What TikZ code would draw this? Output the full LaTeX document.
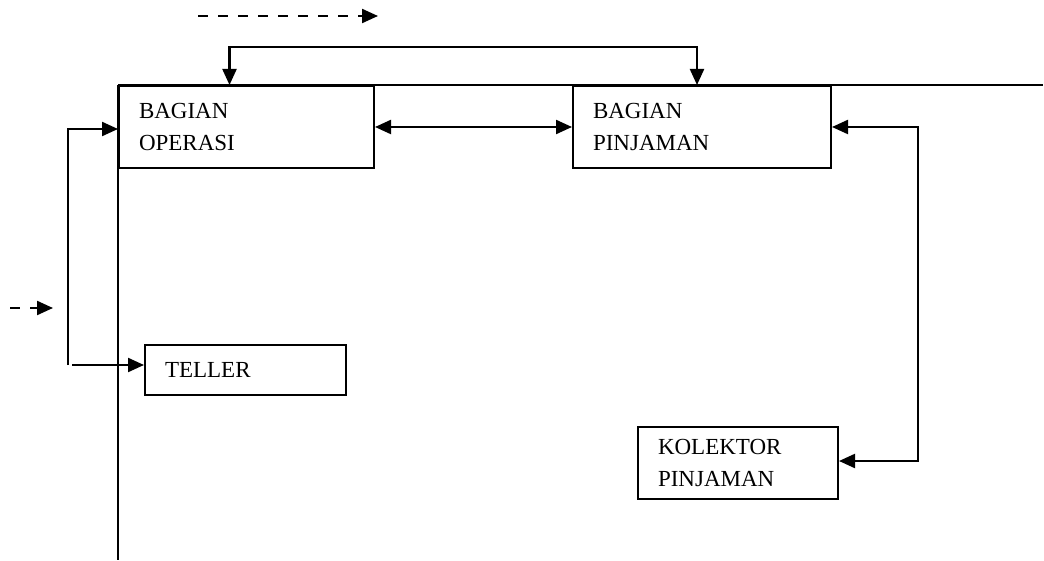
\documentclass[tikz,border=0pt]{standalone}
\usepackage{fontspec}
\setmainfont{Liberation Serif}
\usetikzlibrary{arrows.meta}

\tikzset{
  kotak/.style={draw, line width=2pt, align=left, inner xsep=20pt, inner ysep=0pt,
    font=\fontsize{23}{32}\selectfont},
  garis/.style={line width=2.2pt},
  pil/.style={garis, -{Triangle[length=16pt,width=14pt]}},
  pil2/.style={garis, {Triangle[length=16pt,width=14pt]}-{Triangle[length=16pt,width=14pt]}},
  putus/.style={pil, dash pattern=on 10pt off 10pt}
}

\begin{document}
\begin{tikzpicture}[x=1pt, y=-1pt]
\useasboundingbox (0,0) rectangle (1044,561);
% kotak-kotak
\node[kotak, text width=215pt, minimum height=82pt] (operasi) at (246.5,127) {BAGIAN\\OPERASI};
\node[kotak, text width=218pt, minimum height=82pt] (pinjaman) at (702,127) {BAGIAN\\PINJAMAN};
\node[kotak, text width=161pt, minimum height=50pt] (teller) at (245.5,370) {TELLER};
\node[kotak, text width=160pt, minimum height=72pt] (kolektor) at (738,463) {KOLEKTOR\\PINJAMAN};
% garis struktur
\draw[garis] (operasi.north west) -- ++(925,0)
  (operasi.north west) -- ++(0,475);
% penghubung
\draw[pil2] ([xshift=-17pt]operasi.north) -- ++(0,-38) -| ([xshift=-5pt]pinjaman.north);
\draw[pil2] (operasi.east) -- (pinjaman.west);
\draw[pil2] (pinjaman.east) -- ++(86,0) |- ([yshift=2pt]kolektor.east);
\coordinate (kiri) at (68,365);
\draw[pil] (kiri) |- ([yshift=-2pt]operasi.west);
\draw[pil] ([xshift=4pt]kiri) -- (kiri -| teller.west);
% panah putus-putus
\coordinate (atas1) at (198,16);
\coordinate (atas2) at (378,16);
\draw[putus] (atas1) -- (atas2);
\coordinate (bawah1) at (10,308);
\coordinate (bawah2) at (53,308);
\draw[putus] (bawah1) -- (bawah2);
\end{tikzpicture}
\end{document}
